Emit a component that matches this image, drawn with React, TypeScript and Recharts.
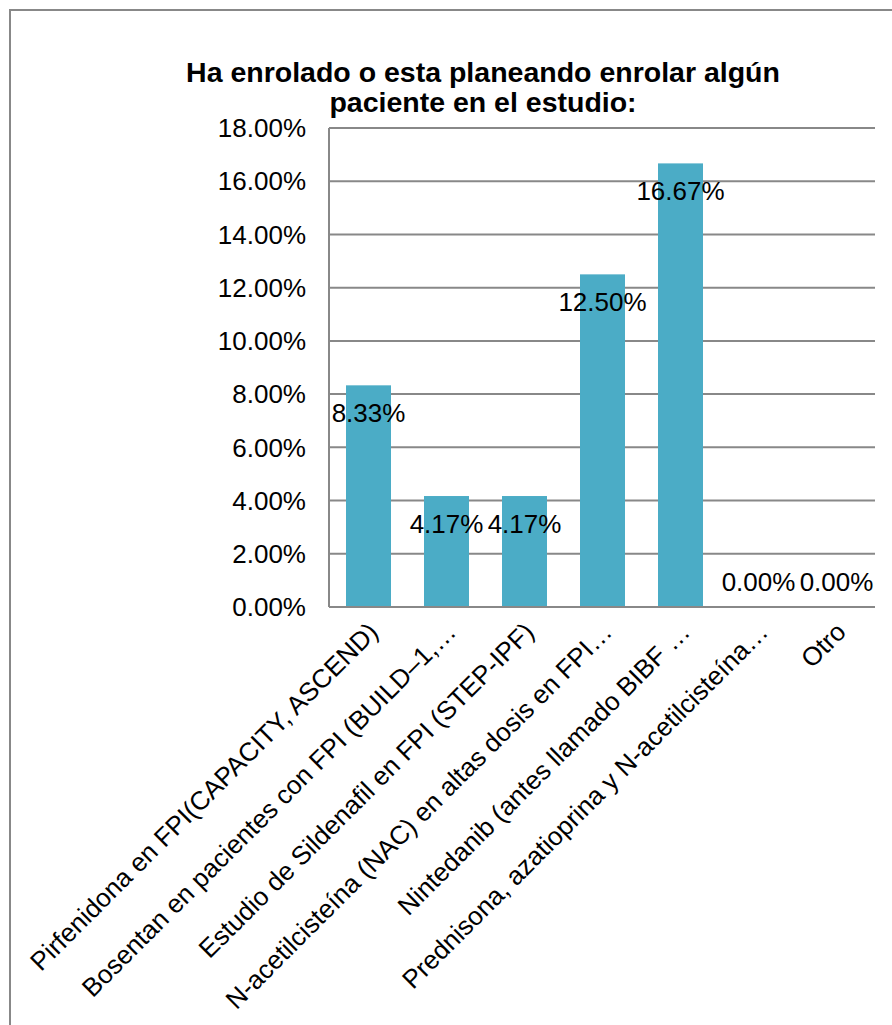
import React from 'react';
import { BarChart, Bar, XAxis, YAxis, CartesianGrid } from 'recharts';

const categories = [
  'Pirfenidona en FPI(CAPACITY, ASCEND)',
  'Bosentan en pacientes con FPI (BUILD–1,…',
  'Estudio de Sildenafil en FPI (STEP-IPF)',
  'N-acetilcisteína (NAC) en altas dosis en FPI…',
  'Nintedanib (antes llamado BIBF …',
  'Prednisona, azatioprina y N-acetilcisteína…',
  'Otro',
];
const values = [0.0833, 0.0417, 0.0417, 0.125, 0.1667, 0, 0];
const yTicks = [0, 0.02, 0.04, 0.06, 0.08, 0.1, 0.12, 0.14, 0.16, 0.18];

const data = categories.map((name, i) => ({ name, value: values[i] }));

const FONT = '"Liberation Sans", Arial, sans-serif';
const pct = (v: number) => (v * 100).toFixed(2) + '%';

function XTick({ x, y, payload }: any) {
  const ax = x - 2;
  const ay = y + 3;
  return (
    <text
      x={ax}
      y={ay}
      transform={`rotate(-45, ${ax}, ${ay})`}
      textAnchor="end"
      dominantBaseline="hanging"
      fontSize={26}
      fontFamily={FONT}
      fill="#000"
    >
      {payload.value}
    </text>
  );
}

// bar plus its value label; zero-height bars still get a label above the axis
function BarWithLabel({ x, y, width, height, value, fill }: any) {
  const v = Array.isArray(value) ? value[1] - value[0] : value;
  const cy = v > 0 ? y + 28 : y + height - 25;
  return (
    <g>
      {height > 0 && <rect x={x} y={y} width={width} height={height} fill={fill} />}
      <text
        x={x + width / 2}
        y={cy}
        textAnchor="middle"
        dominantBaseline="central"
        fontSize={26}
        fontFamily={FONT}
        fill="#000"
      >
        {pct(v)}
      </text>
    </g>
  );
}

export default function App() {
  return (
    <div style={{ position: 'absolute', left: 0, top: 0, width: 892, height: 1025, overflow: 'hidden', background: '#fff' }}>
      <div
        style={{
          position: 'absolute',
          left: 9,
          top: 9,
          width: 1000,
          height: 1100,
          border: '2px solid #888',
          boxSizing: 'border-box',
        }}
      />
      <div
        style={{
          position: 'absolute',
          left: 133,
          top: 57,
          width: 700,
          textAlign: 'center',
          fontFamily: FONT,
          fontWeight: 'bold',
          fontSize: 28.5,
          lineHeight: '30px',
        }}
      >
        Ha enrolado o esta planeando enrolar algún
        <br />
        paciente en el estudio:
      </div>
      <div style={{ position: 'absolute', left: 0, top: 0 }}>
        <BarChart
          width={892}
          height={1025}
          data={data}
          margin={{ top: 128, right: 17, left: 229, bottom: 18 }}
          barSize={45}
        >
          <CartesianGrid vertical={false} stroke="#888" strokeWidth={2} />
          <XAxis
            dataKey="name"
            interval={0}
            height={400}
            tick={<XTick />}
            tickLine={false}
            axisLine={{ stroke: '#888', strokeWidth: 2 }}
            tickMargin={4}
          />
          <YAxis
            width={100}
            domain={[0, 0.18]}
            ticks={yTicks}
            tickFormatter={pct}
            tickLine={false}
            axisLine={{ stroke: '#888', strokeWidth: 2 }}
            tickMargin={17}
            tick={{ fontSize: 26, fontFamily: FONT, fill: '#000' }}
          />
          <Bar dataKey="value" fill="#4BACC6" isAnimationActive={false} shape={<BarWithLabel />} minPointSize={0} />
        </BarChart>
      </div>
    </div>
  );
}
